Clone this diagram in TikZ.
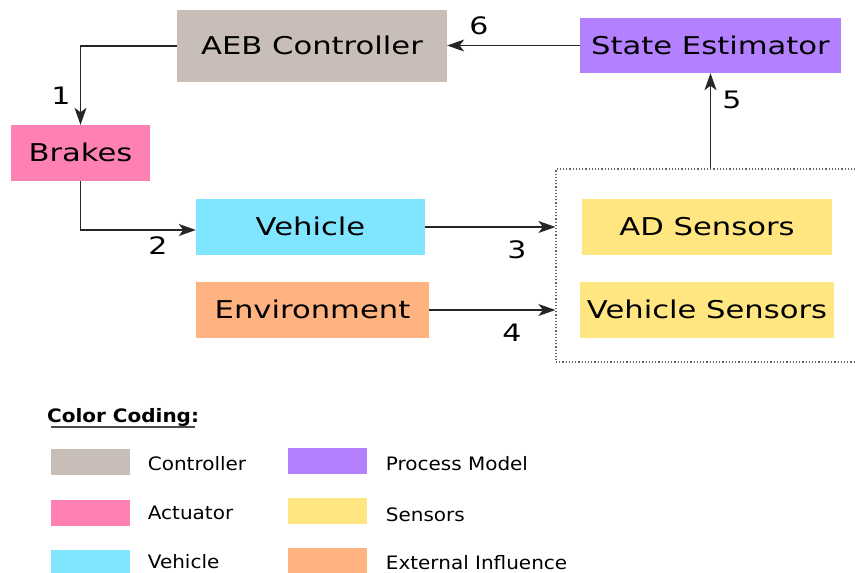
\documentclass[tikz,border=0pt]{standalone}
\usepackage{fontspec}
\setmainfont{DejaVu Sans}[FakeStretch=1.25]
\newfontfamily\legfont{DejaVu Sans}[FakeStretch=1.08]
\usetikzlibrary{arrows.meta,calc}
\definecolor{ctrlc}{HTML}{C8BEB7}
\definecolor{actc}{HTML}{FF80B2}
\definecolor{vehc}{HTML}{80E5FF}
\definecolor{extc}{HTML}{FFB380}
\definecolor{procc}{HTML}{B380FF}
\definecolor{senc}{HTML}{FFE680}
\tikzset{
  blk/.style={inner sep=0pt, text height=17.5pt, text depth=0pt, align=center,
    font=\fontsize{24.5}{28}\selectfont},
  num/.style={inner sep=0pt, font=\fontsize{24}{28}\selectfont},
  arr/.style={draw=black!85, line width=1.1pt, -{Stealth[length=17pt,width=12pt,inset=4.5pt]}},
  sw/.style={inner sep=0pt, minimum width=79pt, minimum height=26pt},
  leg/.style={inner sep=0pt, anchor=base west, font=\legfont\fontsize{18.5}{22}\selectfont},
}
\begin{document}
\begin{tikzpicture}[x=1pt,y=-1pt]
\clip (0,0) rectangle (855,573);
\useasboundingbox (0,0) rectangle (855,573);
% main blocks
\node[blk, fill=ctrlc, minimum width=270pt, minimum height=72pt] (aeb) at (312,46) {AEB Controller};
\node[blk, fill=procc, minimum width=261pt, minimum height=55pt] (est) at (710.5,45.5) {State Estimator};
\node[blk, fill=actc, minimum width=139pt, minimum height=56pt] (brk) at (80.5,153) {Brakes};
\node[blk, fill=vehc, minimum width=229pt, minimum height=56pt] (veh) at (310.5,227) {Vehicle};
\node[blk, fill=extc, minimum width=233pt, minimum height=56pt] (env) at (312.5,310) {Environment};
\node[draw=black!60, dotted, line width=1.2pt, inner sep=0pt, minimum width=314pt, minimum height=193pt] (grp) at (713,265.5) {};
\node[blk, fill=senc, minimum width=250pt, minimum height=56pt] (ads) at (707,227) {AD Sensors};
\node[blk, fill=senc, minimum width=254pt, minimum height=56pt] (vs) at (707,310) {Vehicle Sensors};
% connectors
\draw[arr] (aeb.west) -| (brk.north);
\draw[arr] (brk.south) |- ([yshift=-3pt]veh.west);
\draw[arr] (veh.east) -- (veh.east -| grp.west);
\draw[arr] (env.east) -- (env.east -| grp.west);
\draw[arr] (grp.north -| est.south) -- (est.south);
\draw[arr] (est.west) -- (est.west -| aeb.east);
% numbers
\node[num] (n1) at (61,96) {1};
\node[num] (n2) at (158,246) {2};
\node[num] (n3) at (517,250) {3};
\node[num] (n4) at (512,332.5) {4};
\node[num] (n5) at (732,100) {5};
\node[num] (n6) at (479,26) {6};
% legend
\node[inner sep=0pt, anchor=base west, font=\legfont\bfseries\fontsize{18.5}{22}\selectfont] (head) at (47,422) {Color Coding:};
\draw[black!70, line width=1.4pt] (51,427) -- (195,427);
\node[sw, fill=ctrlc] (s1) at (90.5,462) {};
\node[sw, fill=actc] (s2) at (90.5,513) {};
\node[sw, fill=vehc] (s3) at (90.5,562.5) {};
\node[sw, fill=procc] (s4) at (327.5,461) {};
\node[sw, fill=senc] (s5) at (327.5,511) {};
\node[sw, fill=extc] (s6) at (327.5,560.5) {};
\node[leg] (l1) at (147.7,470.7) {Controller};
\node[leg] (l2) at (147.7,519) {Actuator};
\node[leg] (l3) at (147.7,568) {Vehicle};
\node[leg] (l4) at (385.7,470) {Process Model};
\node[leg] (l5) at (385.7,521.3) {Sensors};
\node[leg] (l6) at (385.7,569.3) {External Influence};
\end{tikzpicture}
\end{document}
